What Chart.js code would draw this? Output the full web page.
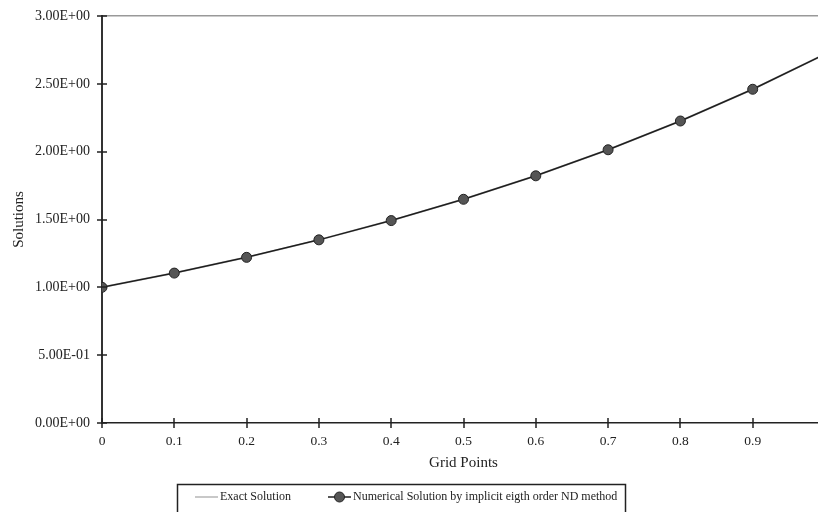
<!DOCTYPE html>
<html>
<head>
<meta charset="utf-8">
<script src="https://cdn.jsdelivr.net/npm/chart.js@4/dist/chart.umd.min.js"></script>
<style>
  html, body { margin: 0; padding: 0; background: #fff; overflow: hidden; }
</style>
</head>
<body>
<canvas id="sol-Chart" width="840" height="520"></canvas>
<script>
// グリッド点と解
const gridPoints = [0, 0.1, 0.2, 0.3, 0.4, 0.5, 0.6, 0.7, 0.8, 0.9, 1.0];
const exactSolution = [1.000, 1.105, 1.221, 1.350, 1.492, 1.649, 1.822, 2.014, 2.226, 2.460, 2.718];
const numericalSolution = [1.000, 1.105, 1.221, 1.350, 1.492, 1.649, 1.822, 2.014, 2.226, 2.460, 2.718];
const seriesLabels = ["Exact Solution", "Numerical Solution by implicit eigth order ND method"];

const FONT = "Liberation Serif";

// 1.5 -> "1.50E+00"
function sci(v) {
  if (v === 0) return "0.00E+00";
  const [m, e] = v.toExponential(2).split("e");
  const n = parseInt(e, 10);
  return m + "E" + (n < 0 ? "-" : "+") + String(Math.abs(n)).padStart(2, "0");
}

// 軸をまたぐ目盛り線
const crossTicks = {
  id: "cross-ticks",
  afterDraw(chart) {
    const { ctx, scales: { x, y } } = chart;
    ctx.save();
    ctx.strokeStyle = "#222";
    ctx.lineWidth = 1.5;
    ctx.beginPath();
    y.ticks.forEach((t) => {
      const py = Math.round(y.getPixelForValue(t.value));
      ctx.moveTo(x.left - 5, py);
      ctx.lineTo(x.left + 5, py);
    });
    x.ticks.forEach((t) => {
      const px = Math.round(x.getPixelForValue(t.value));
      ctx.moveTo(px, y.bottom - 5);
      ctx.lineTo(px, y.bottom + 5);
    });
    ctx.stroke();
    ctx.restore();
  },
};

// 枠付きの凡例
const boxLegend = {
  id: "box-legend",
  afterDraw(chart) {
    const { ctx } = chart;
    const left = 177, right = 625, top = 484, bottom = 515;
    const itemX = [195, 328];
    const rowY = 497;
    ctx.save();
    ctx.strokeStyle = "#222";
    ctx.lineWidth = 1.5;
    ctx.strokeRect(left + 0.5, top + 0.5, right - left, bottom - top);
    ctx.font = "12px " + FONT;
    ctx.fillStyle = "#222";
    ctx.textBaseline = "middle";
    chart.data.datasets.forEach((ds, i) => {
      const x0 = itemX[i];
      ctx.strokeStyle = ds.borderColor;
      ctx.lineWidth = ds.borderWidth;
      ctx.beginPath();
      ctx.moveTo(x0, rowY);
      ctx.lineTo(x0 + 23, rowY);
      ctx.stroke();
      if (ds.pointRadius > 0) {
        ctx.beginPath();
        ctx.arc(x0 + 11.5, rowY, ds.pointRadius, 0, Math.PI * 2);
        ctx.fillStyle = ds.pointBackgroundColor;
        ctx.fill();
        ctx.strokeStyle = ds.pointBorderColor;
        ctx.lineWidth = 1;
        ctx.stroke();
        ctx.fillStyle = "#222";
      }
      ctx.fillText(ds.label, x0 + 25, rowY);
    });
    ctx.restore();
  },
};

new Chart(document.getElementById("sol-Chart"), {
  type: "line",
  data: {
    datasets: [
      {
        label: seriesLabels[0],
        data: gridPoints.map((g, i) => ({ x: g, y: exactSolution[i] })),
        borderColor: "#c8c8c8",
        borderWidth: 2,
        pointRadius: 0,
        order: 1,
      },
      {
        label: seriesLabels[1],
        data: gridPoints.map((g, i) => ({ x: g, y: numericalSolution[i] })),
        borderColor: "#1e1e1e",
        borderWidth: 1.5,
        pointRadius: 5,
        pointBackgroundColor: "#555",
        pointBorderColor: "#222",
        pointBorderWidth: 1,
        order: 0,
      },
    ],
  },
  options: {
    responsive: false,
    animation: false,
    layout: { padding: { left: 10, right: 15, top: 16, bottom: 45 } },
    plugins: {
      legend: { display: false },
      tooltip: { enabled: false },
    },
    scales: {
      x: {
        type: "linear",
        min: 0,
        max: 1,
        afterFit(scale) { scale.height = 52; },
        ticks: {
          stepSize: 0.1,
          padding: 10,
          maxRotation: 0,
          color: "#222",
          font: { family: FONT, size: 13.5 },
          callback: (v) => String(Number(v.toFixed(1))),
        },
        grid: { color: "transparent", drawTicks: false },
        border: { display: true, color: "#222", width: 1.5 },
        title: {
          display: true,
          text: "Grid Points",
          color: "#222",
          font: { family: FONT, size: 15 },
          padding: { top: 0, bottom: 3 },
        },
      },
      y: {
        min: 0,
        max: 3,
        afterFit(scale) {
          scale.width = 92;
          scale.paddingTop = 0;
          scale.paddingBottom = 0;
        },
        ticks: {
          stepSize: 0.5,
          padding: 12,
          color: "#222",
          font: { family: FONT, size: 14, lineHeight: 1 },
          callback: (v) => sci(v),
        },
        grid: {
          drawTicks: false,
          color: (c) => (c.tick && c.tick.value === 3 ? "#999" : "transparent"),
          lineWidth: 1.5,
        },
        border: { display: true, color: "#333", width: 2 },
        title: {
          display: true,
          text: "Solutions",
          color: "#222",
          font: { family: FONT, size: 15 },
          padding: { top: 0, bottom: 0 },
        },
      },
    },
  },
  plugins: [crossTicks, boxLegend],
});
</script>
</body>
</html>
